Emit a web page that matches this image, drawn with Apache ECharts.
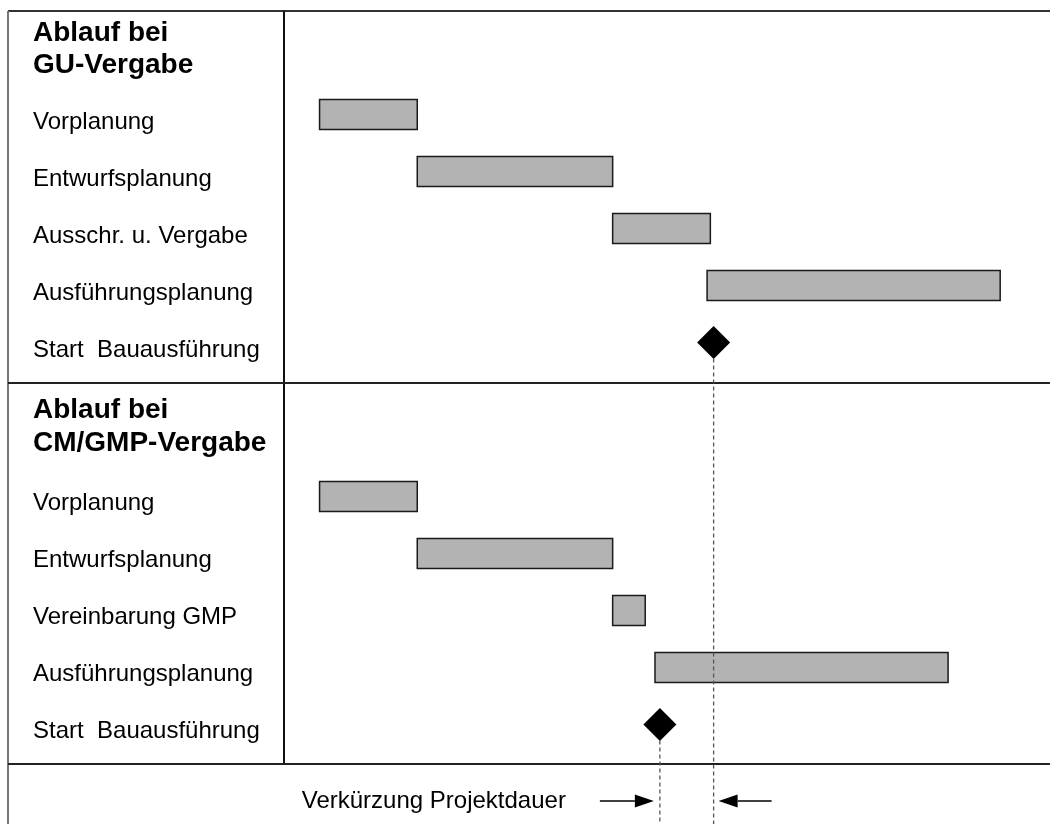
<!DOCTYPE html>
<html>
<head>
<meta charset="utf-8">
<title>Ablauf GU- vs. CM/GMP-Vergabe</title>
<script src="https://cdn.jsdelivr.net/npm/echarts@6/dist/echarts.min.js"></script>
<style>
  html, body { margin: 0; padding: 0; background: #fff; }
  #chart { width: 1050px; height: 824px; }
</style>
</head>
<body>
<div id="chart"></div>
<script>
// Time axis in months from the start of Vorplanung
const guLabels = ['Vorplanung', 'Entwurfsplanung', 'Ausschr. u. Vergabe', 'Ausführungsplanung', 'Start  Bauausführung'];
const guStart = [0, 3, 9, 11.9];
const guEnd = [3, 9, 12, 20.9];
const guMilestone = 12.1;

const cmLabels = ['Vorplanung', 'Entwurfsplanung', 'Vereinbarung GMP', 'Ausführungsplanung', 'Start  Bauausführung'];
const cmStart = [0, 3, 9, 10.3];
const cmEnd = [3, 9, 10, 19.3];
const cmMilestone = 10.45;

const headings = ['Ablauf bei\nGU-Vergabe', 'Ablauf bei\nCM/GMP-Vergabe'];
const footerText = 'Verkürzung Projektdauer';

const FONT = '"Liberation Sans", Arial, sans-serif';
const W = 1050, H = 824;
const frameLeft = 8, frameTop = 11, divX = 284, midY = 383, footY = 764;

function taskData(starts, ends) {
  return starts.map((s, i) => [i, s, ends[i]]);
}

function renderBar(params, api) {
  const row = api.value(0);
  const a = api.coord([api.value(1), row]);
  const b = api.coord([api.value(2), row]);
  const h = 30;
  return {
    type: 'rect',
    shape: { x: a[0], y: a[1] - h / 2, width: b[0] - a[0], height: h },
    style: { fill: '#b3b3b3', stroke: '#1a1a1a', lineWidth: 1.5 }
  };
}

function xAxisFor(gridIndex) {
  return {
    type: 'value', gridIndex, min: -1, max: 22,
    show: false, splitLine: { show: false }
  };
}

// Row labels sit slightly below the row centre
function yAxisFor(gridIndex, labels, drop) {
  return {
    type: 'category', gridIndex, data: labels, inverse: true,
    axisLine: { show: false }, axisTick: { show: false }, splitLine: { show: false },
    axisLabel: {
      align: 'left', verticalAlign: 'top', margin: 254, color: '#000',
      fontFamily: FONT, fontSize: 24, lineHeight: 10, padding: [drop, 0, 0, 0]
    }
  };
}

const chart = echarts.init(document.getElementById('chart'), null, { renderer: 'canvas' });

chart.setOption({
  animation: false,
  backgroundColor: '#fff',
  title: [
    { text: headings[0], left: 33, top: 17, padding: 0,
      textStyle: { fontFamily: FONT, fontSize: 28, fontWeight: 'bold', color: '#000', lineHeight: 32 } },
    { text: headings[1], left: 33, top: 394, padding: 0,
      textStyle: { fontFamily: FONT, fontSize: 28, fontWeight: 'bold', color: '#000', lineHeight: 33 } }
  ],
  grid: [
    { left: 287, right: 14, top: 86, height: 285 },
    { left: 287, right: 14, top: 468, height: 285 }
  ],
  xAxis: [xAxisFor(0), xAxisFor(1)],
  yAxis: [yAxisFor(0, guLabels, 3), yAxisFor(1, cmLabels, 1.5)],
  series: [
    { type: 'custom', xAxisIndex: 0, yAxisIndex: 0, renderItem: renderBar,
      encode: { x: [1, 2], y: 0 }, data: taskData(guStart, guEnd), z: 3 },
    { type: 'custom', xAxisIndex: 1, yAxisIndex: 1, renderItem: renderBar,
      encode: { x: [1, 2], y: 0 }, data: taskData(cmStart, cmEnd), z: 3 },
    { type: 'scatter', xAxisIndex: 0, yAxisIndex: 0, symbol: 'diamond', symbolSize: 33,
      itemStyle: { color: '#000', opacity: 1 }, data: [[guMilestone, guLabels.length - 1]], z: 5 },
    { type: 'scatter', xAxisIndex: 1, yAxisIndex: 1, symbol: 'diamond', symbolSize: 33,
      itemStyle: { color: '#000', opacity: 1 }, data: [[cmMilestone, cmLabels.length - 1]], z: 5 }
  ]
});

// Frame, guide lines and the shortening arrows, placed from the axis scales
const guPt = chart.convertToPixel({ xAxisIndex: 0, yAxisIndex: 0 }, [guMilestone, guLabels.length - 1]);
const cmPt = chart.convertToPixel({ xAxisIndex: 1, yAxisIndex: 1 }, [cmMilestone, cmLabels.length - 1]);
const arrowY = 801;

function line(x1, y1, x2, y2, stroke, lineWidth, dash, z) {
  return {
    type: 'line', z: z || 1, silent: true,
    shape: { x1, y1, x2, y2 },
    style: { stroke, lineWidth, lineDash: dash || null }
  };
}

function arrow(tailX, tipX, y) {
  const dir = tipX > tailX ? 1 : -1;
  const headLen = 19, half = 6.5;
  const baseX = tipX - dir * headLen;
  return [
    line(tailX, y, baseX, y, '#000', 1.5),
    { type: 'polygon', z: 1, silent: true,
      shape: { points: [[tipX, y], [baseX, y - half], [baseX, y + half]] },
      style: { fill: '#000' } }
  ];
}

const leftTail = cmPt[0] - 60;

chart.setOption({
  graphic: [
    line(frameLeft, frameTop, W, frameTop, '#333', 2),
    line(frameLeft, frameTop, frameLeft, H, '#777', 2),
    line(divX, frameTop, divX, footY, '#111', 2),
    line(frameLeft, midY, W, midY, '#222', 2),
    line(frameLeft, footY, W, footY, '#222', 2),
    line(guPt[0], guPt[1] + 16, guPt[0], H, '#555', 1.3, [4, 3], 10),
    line(cmPt[0], cmPt[1] + 16, cmPt[0], H, '#555', 1.3, [4, 3], 10),
    ...arrow(leftTail, cmPt[0] - 6, arrowY),
    ...arrow(guPt[0] + 58, guPt[0] + 5, arrowY),
    { type: 'text', z: 1, silent: true,
      style: { text: footerText, x: leftTail - 34, y: arrowY, align: 'right', verticalAlign: 'middle',
               fill: '#000', font: '24px ' + FONT } }
  ]
});
</script>
</body>
</html>
